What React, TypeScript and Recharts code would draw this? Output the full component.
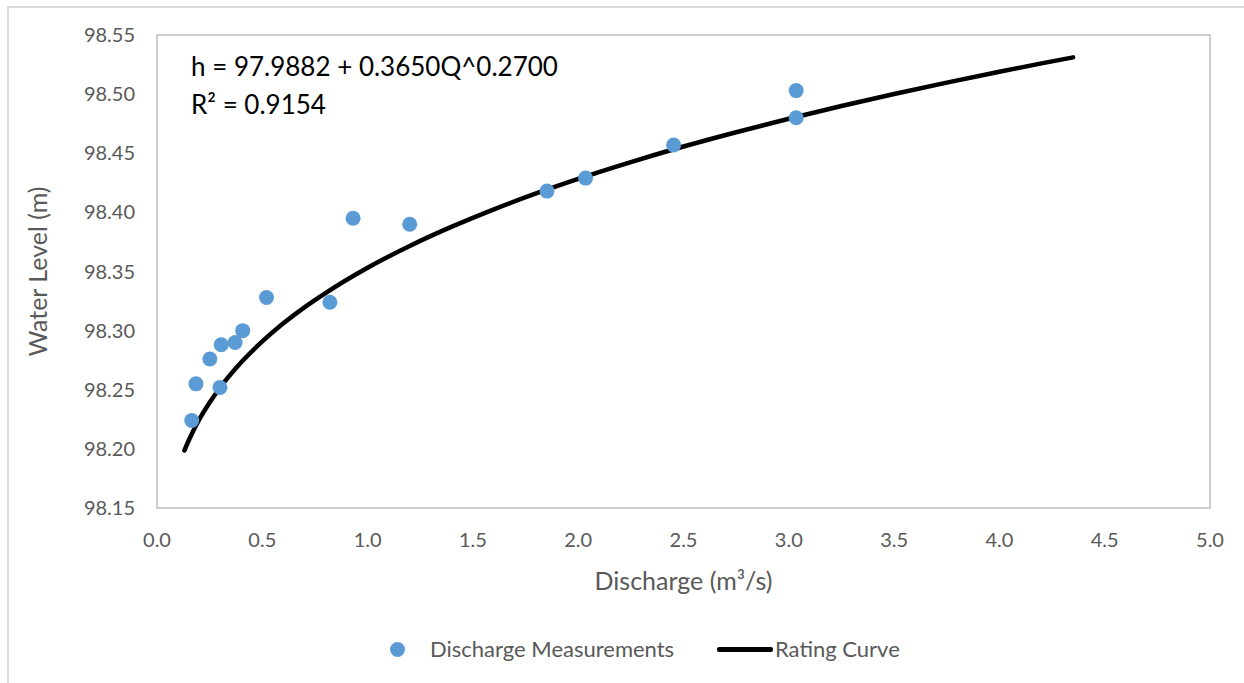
import React from 'react'
import { ComposedChart, Line, Scatter, XAxis, YAxis, ReferenceArea } from 'recharts'

// field gaugings: discharge (m³/s) and water level (m)
const measuredQ = [0.165, 0.185, 0.251, 0.299, 0.305, 0.371, 0.407, 0.52, 0.821, 0.931, 1.2, 1.852, 2.035, 2.453, 3.035, 3.035]
const measuredH = [98.224, 98.255, 98.276, 98.252, 98.288, 98.29, 98.3, 98.328, 98.324, 98.395, 98.39, 98.418, 98.429, 98.457, 98.503, 98.48]

// rating curve points
const curveQ = [0.13, 0.15, 0.2, 0.25, 0.3, 0.4, 0.5, 0.6, 0.7, 0.8, 1.0, 1.2, 1.4, 1.6, 1.8, 2.0, 2.25, 2.5, 2.75, 3.0, 3.25, 3.5, 3.75, 4.0, 4.2, 4.35]
const curveH = [98.1986, 98.2069, 98.2246, 98.2392, 98.2519, 98.2732, 98.2909, 98.3062, 98.3197, 98.3318, 98.3532, 98.3716, 98.3879, 98.4026, 98.416, 98.4283, 98.4425, 98.4557, 98.4678, 98.4792, 98.49, 98.5001, 98.5097, 98.5189, 98.526, 98.5311]

const xTicks = [0, 0.5, 1, 1.5, 2, 2.5, 3, 3.5, 4, 4.5, 5]
const yTicks = [98.15, 98.2, 98.25, 98.3, 98.35, 98.4, 98.45, 98.5, 98.55]

const equationText = 'h = 97.9882 + 0.3650Q^0.2700'
const r2Text = 'R² = 0.9154'

const FONT = 'Lato, "Open Sans", sans-serif'
const GREY = '#595959'
const BLUE = '#5B9BD5'

const measurements = measuredQ.map((q, i) => ({ q, h: measuredH[i] }))
const curve = curveQ.map((q, i) => ({ q, h: curveH[i] }))

const tickStyle = { fill: GREY, fontSize: 20, fontFamily: FONT }

export default function App() {
  return (
    <div style={{ position: 'absolute', left: 0, top: 0, width: 1244, height: 683, overflow: 'hidden', background: '#fff', fontFamily: FONT }}>
      <div style={{ position: 'absolute', left: 7, top: 6, width: 1300, height: 700, border: '2px solid #d9d9d9' }} />
      <ComposedChart
        width={1244}
        height={683}
        margin={{ top: 35, right: 34, bottom: 115, left: 0 }}
        style={{ position: 'absolute', left: 0, top: 0 }}
      >
        <XAxis
          dataKey="q"
          type="number"
          domain={[0, 5]}
          ticks={xTicks}
          tickFormatter={(v: number) => v.toFixed(1)}
          tick={tickStyle}
          tickLine={false}
          axisLine={false}
          tickMargin={19}
          height={60}
          allowDataOverflow
          label={{
            content: ({ viewBox }: any) => (
              <text
                x={viewBox.x + viewBox.width / 2}
                y={viewBox.y + 72}
                textAnchor="middle"
                dominantBaseline="central"
                fill={GREY}
                fontSize={25}
                fontFamily={FONT}
              >
                Discharge (m³/s)
              </text>
            ),
          }}
        />
        <YAxis
          type="number"
          domain={[98.15, 98.55]}
          ticks={yTicks}
          tickFormatter={(v: number) => v.toFixed(2)}
          tick={tickStyle}
          tickLine={false}
          axisLine={false}
          tickMargin={16}
          width={157}
          allowDataOverflow
          label={{
            content: ({ viewBox }: any) => {
              const cy = viewBox.y + viewBox.height / 2
              return (
                <text
                  x={37}
                  y={cy}
                  transform={`rotate(-90, 37, ${cy})`}
                  textAnchor="middle"
                  dominantBaseline="central"
                  fill={GREY}
                  fontSize={25}
                  fontFamily={FONT}
                >
                  Water Level (m)
                </text>
              )
            },
          }}
        />
        <ReferenceArea x1={0} x2={5} y1={98.15} y2={98.55} fill="none" stroke="#bfbfbf" strokeWidth={1.5} />
        <Line
          data={curve}
          dataKey="h"
          type="monotone"
          stroke="#000"
          strokeWidth={4.5}
          strokeLinecap="round"
          dot={false}
          activeDot={false}
          isAnimationActive={false}
        />
        <Scatter
          data={measurements}
          dataKey="h"
          isAnimationActive={false}
          shape={(p: any) => <circle cx={p.cx} cy={p.cy} r={7.5} fill={BLUE} />}
        />
      </ComposedChart>

      <div style={{ position: 'absolute', left: 191, top: 49, fontSize: 26, color: '#000', lineHeight: '34px' }}>{equationText}</div>
      <div style={{ position: 'absolute', left: 191, top: 87, fontSize: 26, color: '#000', lineHeight: '34px' }}>{r2Text}</div>

      {/* legend */}
      <div style={{ position: 'absolute', left: 389.5, top: 641.5, width: 15, height: 15, borderRadius: '50%', background: BLUE }} />
      <div style={{ position: 'absolute', left: 430, top: 634, fontSize: 22, lineHeight: '30px', color: GREY }}>Discharge Measurements</div>
      <div style={{ position: 'absolute', left: 717, top: 647, width: 56, height: 4.5, borderRadius: 2, background: '#000' }} />
      <div style={{ position: 'absolute', left: 775, top: 634, fontSize: 22, lineHeight: '30px', color: GREY }}>Rating Curve</div>
    </div>
  )
}
